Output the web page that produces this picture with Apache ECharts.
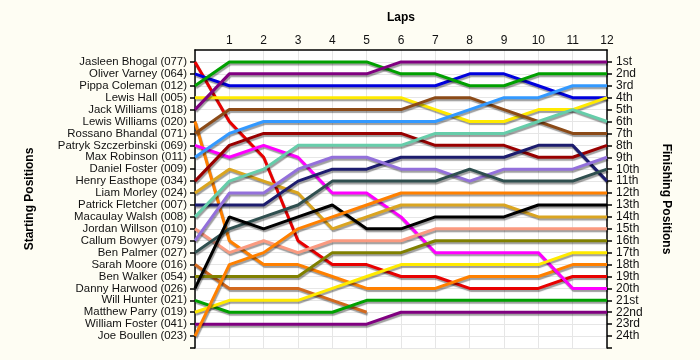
<!DOCTYPE html>
<html>
<head>
<meta charset="utf-8">
<script src="https://cdn.jsdelivr.net/npm/echarts@6/dist/echarts.min.js"></script>
<style>
html,body{margin:0;padding:0;background:#FEFDF3;}
#chart{width:700px;height:360px;}
</style>
</head>
<body>
<div id="chart"></div>
<script>
// Laps (x axis)
const laps = [0,1,2,3,4,5,6,7,8,9,10,11,12];
// Starting grid (left axis labels, position 1..24)
const startNames = [
  "Jasleen Bhogal (077)","Oliver Varney (064)","Pippa Coleman (012)","Lewis Hall (005)",
  "Jack Williams (018)","Lewis Williams (020)","Rossano Bhandal (071)","Patryk Szczerbinski (069)",
  "Max Robinson (011)","Daniel Foster (009)","Henry Easthope (034)","Liam Morley (024)",
  "Patrick Fletcher (007)","Macaulay Walsh (008)","Jordan Willson (010)","Callum Bowyer (079)",
  "Ben Palmer (027)","Sarah Moore (016)","Ben Walker (054)","Danny Harwood (026)",
  "Will Hunter (021)","Matthew Parry (019)","William Foster (041)","Joe Boullen (023)"
];
// Finishing position labels (right axis)
const finishLabels = ["1st","2nd","3rd","4th","5th","6th","7th","8th","9th","10th","11th","12th",
  "13th","14th","15th","16th","17th","18th","19th","20th","21st","22nd","23rd","24th"];

// Position per lap (lap 0..12) for each driver
const jasleenBhogal      = [1,6,9,16,18,18,19,19,20,20,20,19,19];
const oliverVarney       = [2,3,3,3,3,3,3,3,2,2,3,4,4];
const pippaColeman       = [3,1,1,1,1,1,2,2,3,3,2,2,2];
const lewisHall          = [4,4,4,4,4,4,4,5,6,6,5,5,4];
const jackWilliams       = [5,2,2,2,2,2,1,1,1,1,1,1,1];
const lewisWilliams      = [6,16,18,18,19,20,20,20,19,19,19,18,18];
const rossanoBhandal     = [7,5,5,5,5,5,5,4,4,5,6,7,7];
const patrykSzczerbinski = [8,9,8,9,12,12,14,17,17,17,17,20,20];
const maxRobinson        = [9,7,6,6,6,6,6,6,5,4,4,3,3];
const henryEasthope      = [11,8,7,7,7,7,7,8,8,8,9,9,8];
const liamMorley         = [12,10,11,12,15,14,13,13,13,13,14,14,14];
const patrickFletcher    = [13,13,13,11,10,10,9,9,9,9,8,8,11];
const macaulayWalsh      = [14,11,10,8,8,8,8,7,7,7,6,5,6];
const jordanWillson      = [15,17,16,17,16,16,16,15,15,15,15,15,15];
const callumBowyer       = [16,12,12,10,9,9,10,10,11,10,10,10,9];
const benPalmer          = [17,15,14,13,11,11,11,11,10,11,11,11,10];
const sarahMoore         = [18,20,20,20,21,22];
const benWalker          = [19,19,19,19,17,17,17,16,16,16,16,16,16];
const dannyHarwood       = [20,14,15,14,13,15,15,14,14,14,13,13,13];
const willHunter         = [21,22,22,22,22,21,21,21,21,21,21,21,21];
const matthewParry       = [22,21,21,21,20,19,18,18,18,18,18,17,17];
const williamFoster      = [23,23,23,23,23,23,22,22,22,22,22,22,22];
const joeBoullen         = [24,18,17,15,14,13,12,12,12,12,12,12,12];

const seriesList = [
  ["Jasleen Bhogal (077)", jasleenBhogal],
  ["Oliver Varney (064)", oliverVarney],
  ["Pippa Coleman (012)", pippaColeman],
  ["Lewis Hall (005)", lewisHall],
  ["Jack Williams (018)", jackWilliams],
  ["Lewis Williams (020)", lewisWilliams],
  ["Rossano Bhandal (071)", rossanoBhandal],
  ["Patryk Szczerbinski (069)", patrykSzczerbinski],
  ["Max Robinson (011)", maxRobinson],
  ["Henry Easthope (034)", henryEasthope],
  ["Liam Morley (024)", liamMorley],
  ["Patrick Fletcher (007)", patrickFletcher],
  ["Macaulay Walsh (008)", macaulayWalsh],
  ["Jordan Willson (010)", jordanWillson],
  ["Callum Bowyer (079)", callumBowyer],
  ["Ben Palmer (027)", benPalmer],
  ["Sarah Moore (016)", sarahMoore],
  ["Ben Walker (054)", benWalker],
  ["Danny Harwood (026)", dannyHarwood],
  ["Will Hunter (021)", willHunter],
  ["Matthew Parry (019)", matthewParry],
  ["William Foster (041)", williamFoster],
  ["Joe Boullen (023)", joeBoullen]
];
const colors = [
  "#E80000","#0000DD","#00A000","#FFEA00","#800080","#FF8000","#8B4A17","#FF00FF",
  "#3399FF","#990000","#DAA520","#1C1C6E","#66CDAA","#FA9A80","#9370DB","#2F4F4F",
  "#D2691E","#808000","#000000","#00A000","#FFEA00","#800080","#FF8000"
];

const FONT = "Liberation Sans";
const chart = echarts.init(document.getElementById("chart"), null, {renderer: "canvas"});

const series = seriesList.map(function (s, i) {
  return {
    name: s[0],
    type: "line",
    symbol: "none",
    silent: true,
    data: s[1].map(function (p, k) { return [laps[k], p]; }),
    lineStyle: {
      color: colors[i], width: 3,
      shadowColor: "rgba(0,0,0,0.38)", shadowOffsetX: 1, shadowOffsetY: 2, shadowBlur: 1
    },
    itemStyle: {color: colors[i]},
    z: 2
  };
});

const tickVals = [1,2,3,4,5,6,7,8,9,10,11,12,13,14,15,16,17,18,19,20,21,22,23,24,25];

chart.setOption({
  animation: false,
  backgroundColor: "#FEFDF3",
  grid: {left: 195, right: 93, top: 50, bottom: 12, show: true, backgroundColor: "#FFFFFF", borderWidth: 0},
  xAxis: {
    type: "value", position: "top", min: 0, max: 12, interval: 1,
    name: "Laps", nameLocation: "middle", nameGap: 26,
    nameTextStyle: {fontFamily: FONT, fontSize: 12, fontWeight: "bold", color: "#000"},
    axisLine: {show: true, lineStyle: {color: "#000", width: 1.5}},
    axisTick: {show: false},
    axisLabel: {
      fontFamily: FONT, fontSize: 12, color: "#111", margin: 3,
      formatter: function (v) { return v === 0 ? "" : String(laps[v]); }
    },
    splitLine: {show: true, lineStyle: {color: "#E6E6E6", width: 1}}
  },
  yAxis: [{
    type: "value", inverse: true, min: 0, max: 25, interval: 1, position: "left",
    name: "Starting Positions", nameLocation: "middle", nameGap: 159, nameRotate: 90,
    nameTextStyle: {fontFamily: FONT, fontSize: 12, fontWeight: "bold", color: "#000"},
    axisLine: {show: true, lineStyle: {color: "#000", width: 1.5}},
    axisTick: {show: true, length: 5, lineStyle: {color: "#000", width: 1.5}, customValues: tickVals},
    axisLabel: {
      fontFamily: FONT, fontSize: 11.4, color: "#111", margin: 8,
      formatter: function (v) { return (v >= 1 && v <= 24) ? startNames[v - 1] : ""; }
    },
    splitLine: {show: true, lineStyle: {color: "#E6E6E6", width: 1}}
  }, {
    type: "value", inverse: true, min: 0, max: 25, interval: 1, position: "right",
    name: "Finishing Positions", nameLocation: "middle", nameGap: 53, nameRotate: -90,
    nameTextStyle: {fontFamily: FONT, fontSize: 12, fontWeight: "bold", color: "#000"},
    axisLine: {show: true, lineStyle: {color: "#000", width: 1.5}},
    axisTick: {show: true, length: 5, lineStyle: {color: "#000", width: 1.5}, customValues: tickVals},
    axisLabel: {
      fontFamily: FONT, fontSize: 12, color: "#111", margin: 9,
      formatter: function (v) { return (v >= 1 && v <= 24) ? finishLabels[v - 1] : ""; }
    },
    splitLine: {show: false}
  }],
  series: series
});
</script>
</body>
</html>
